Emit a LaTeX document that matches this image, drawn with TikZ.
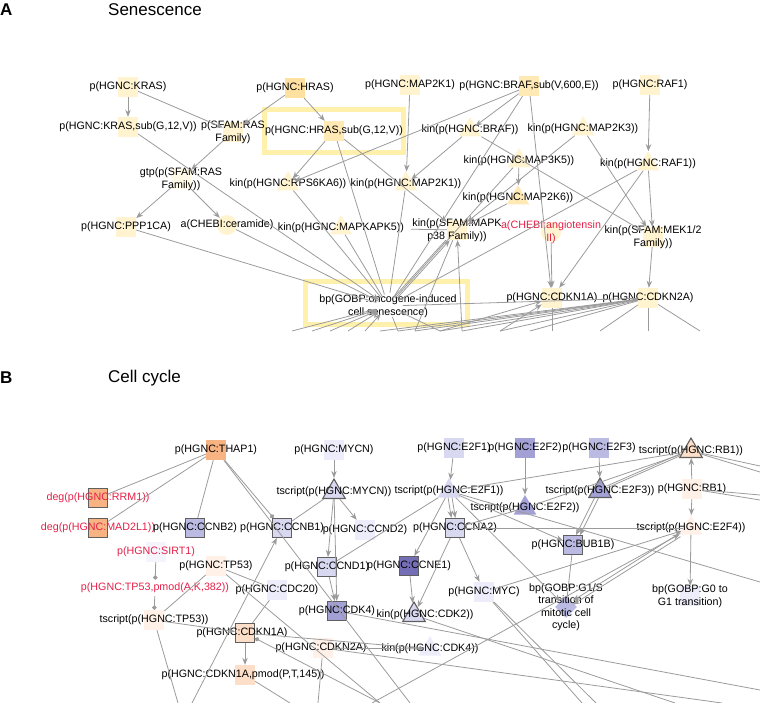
\documentclass[tikz,border=0pt]{standalone}
\usepackage{fontspec}
\setmainfont{Liberation Sans}
\usepackage{xcolor}
\usetikzlibrary{positioning,arrows.meta,shapes.geometric}
\definecolor{cedge}{RGB}{155,155,155}
\definecolor{cbord}{RGB}{95,95,95}
\definecolor{cred}{RGB}{228,32,72}
\definecolor{chl}{RGB}{255,241,172}
\definecolor{ya}{RGB}{255,243,208}
\definecolor{yb}{RGB}{255,233,180}
\definecolor{yc}{RGB}{254,225,160}
\definecolor{or}{RGB}{247,180,130}
\definecolor{pc}{RGB}{253,222,200}
\definecolor{pf}{RGB}{255,241,232}
\definecolor{lf}{RGB}{236,236,250}
\definecolor{la}{RGB}{216,216,241}
\definecolor{lb}{RGB}{186,186,226}
\definecolor{lc}{RGB}{162,160,212}
\definecolor{ld}{RGB}{116,110,182}

\begin{document}
\begin{tikzpicture}[x=1pt,y=-1pt,
  lbl/.style={font=\fontsize{10.7}{12.5}\selectfont,align=center,inner sep=0},
  ttl/.style={font=\fontsize{17}{20}\selectfont,anchor=west,inner sep=0},
  sq/.style={rectangle,minimum size=20,inner sep=0,fill=#1},
  sqo/.style={sq=#1,draw=cbord,line width=1.1pt,minimum size=19},
  tri/.style={regular polygon,regular polygon sides=3,minimum size=26,inner sep=0,fill=#1},
  trio/.style={tri=#1,draw=cbord,line width=1.1pt},
  dia/.style={diamond,minimum size=22,inner sep=0,fill=#1},
  ci/.style={circle,minimum size=20,inner sep=0,fill=#1},
  tx/.style={label={[lbl]center:#1}},
  txr/.style={label={[lbl,text=cred]center:#1}},
  a/.style={-{Stealth[length=7pt,width=5.5pt]},cedge,line width=0.8pt},
  l/.style={cedge,line width=0.8pt},
  dt/.style={-{Circle[length=4.5pt]},cedge,line width=0.8pt},
  hl/.style={draw=chl,line width=5pt,inner sep=0},
]
\useasboundingbox (0,0) rectangle (760,703);
% --- A: senescence ---
\node[ttl,font=\fontsize{17}{20}\selectfont\bfseries] (ta) at (0,10) {A};
\node[ttl] (tan) at (108,10) {Senescence};
\node[hl,minimum width=139,minimum height=43] (hla) at (334,131) {};
\node[hl,minimum width=162,minimum height=43] (hlb) at (386,303) {};

\node[sq=ya,tx={p(HGNC:KRAS)}] (kras) at (128,87) {};
\node[sq=ya,tx={p(HGNC:KRAS,sub(G,12,V))}] (krass) at (128,127) {};
\node[sq=ya,tx={p(SFAM:RAS\\Family)}] (sfam) at (233,132) {};
\node[sq=yc,tx={p(HGNC:HRAS)}] (hras) at (295,88) {};
\node[sq=yb,tx={p(HGNC:HRAS,sub(G,12,V))}] (hrass) at (334,131) {};
\node[sq=ya,tx={p(HGNC:MAP2K1)}] (map2k1) at (410,85) {};
\node[sq=yb,tx={p(HGNC:BRAF,sub(V,600,E))}] (brafs) at (529,86) {};
\node[sq=ya,tx={p(HGNC:RAF1)}] (raf1) at (650,85) {};
\node[tri=ya,tx={kin(p(HGNC:BRAF))}] (kbraf) at (470,130) {};
\node[tri=ya,tx={kin(p(HGNC:MAP2K3))}] (kmap2k3) at (583,129) {};
\node[tri=ya,tx={kin(p(HGNC:MAP3K5))}] (kmap3k5) at (519,161) {};
\node[tri=ya,tx={kin(p(HGNC:RAF1))}] (kraf1) at (648,164) {};
\node[sq=ya!50,tx={gtp(p(SFAM:RAS\\Family))}] (gtp) at (181,179) {};
\node[tri=ya,tx={kin(p(HGNC:RPS6KA6))}] (krps) at (288,184) {};
\node[tri=ya,tx={kin(p(HGNC:MAP2K1))}] (kmap2k1) at (406,184) {};
\node[tri=yb,tx={kin(p(HGNC:MAP2K6))}] (kmap2k6) at (518,198) {};
\node[sq=ya,tx={p(HGNC:PPP1CA)}] (ppp1ca) at (126,227) {};
\node[ci=ya,tx={a(CHEBI:ceramide)}] (ceram) at (227,225) {};
\node[tri=ya,tx={kin(p(HGNC:MAPKAPK5))}] (kmapkapk5) at (341,228) {};
\node[sq=ya,tx={kin(p(SFAM:MAPK\\p38 Family))}] (p38) at (457,230) {};
\node[ci=ya,txr={a(CHEBI:angiotensin\\II)}] (angio) at (551,232) {};
\node[sq=ya,tx={kin(p(SFAM:MEK1/2\\Family))}] (mek) at (653,237) {};
\node[diamond,minimum size=30,inner sep=0,tx={bp(GOBP:oncogene-induced\\cell senescence)}] (bp1) at (388,306) {};
\node[sq=ya,tx={p(HGNC:CDKN1A)}] (cdkn1a) at (552,298) {};
\node[sq=ya,tx={p(HGNC:CDKN2A)}] (cdkn2a) at (648,298) {};
\foreach \x [count=\i] in {292,312,330,348,365,380,398,415,440,462,500,530,552,600,648,700}
  \coordinate (ea\i) at (\x,331);

\draw[a] (kras)--(krass); \draw[a] (kras)--(sfam); \draw[a] (hras)--(sfam);
\draw[a] (hras)--(hrass); \draw[a] (sfam)--(gtp);
\draw[a] (gtp)--(ppp1ca); \draw[a] (gtp)--(ceram);
\draw[a] (krass)--(bp1); \draw[l] (ppp1ca)--(bp1); \draw[l] (ceram)--(bp1);
\draw[a] (hrass)--(krps); \draw[l] (hrass)--(bp1); \draw[a] (hrass)--(p38);
\draw[a] (map2k1)--(kmap2k1);
\draw[a] (brafs)--(kbraf); \draw[a] (brafs)--(krps); \draw[l] (brafs)--(bp1);
\draw[a] (brafs)--(cdkn1a);
\draw[a] (kbraf)--(kmap2k1); \draw[a] (kbraf)--(mek);
\draw[a] (kmap2k3)--(p38); \draw[a] (kmap2k3)--(mek);
\draw[a] (raf1)--(kraf1); \draw[a] (kraf1)--(mek); \draw[a] (kraf1)--(cdkn1a);
\draw[l] (kraf1)--(bp1);
\draw[a] (kmap3k5)--(kmap2k6); \draw[l] (kmap3k5)--(bp1); \draw[a] (kmap2k6)--(p38);
\draw[l,shorten <=62pt] (kmapkapk5)--(p38);
\draw[l] (krps)--(bp1); \draw[l] (kmap2k1)--(bp1); \draw[l] (kmapkapk5)--(bp1);
\draw[a,transform canvas={xshift=2pt}] (bp1)--(p38);
\draw[l,transform canvas={xshift=-2pt}] (p38)--(bp1);
\draw[a] (angio)--(cdkn1a); \draw[a] (mek)--(cdkn2a);
% the cut-off part of the network below
\foreach \i in {2,3,4,5} \draw[a] (ea\i)--(bp1);
\foreach \i in {1,7,9} \draw[l] (bp1)--(ea\i);
\draw[a] (ea10)--(p38); \draw[l] (p38)--(ea8);
\foreach \i in {6,...,12} \draw[l] (cdkn2a)--(ea\i);
\draw[l] (cdkn2a)--(bp1);
\draw[a] (ea9)--(cdkn1a); \draw[a] (ea11)--(cdkn1a); \draw[l] (cdkn1a)--(ea13);
\draw[l] (cdkn2a)--(ea14); \draw[l] (cdkn2a)--(ea15); \draw[l] (cdkn2a)--(ea16);

% --- B: cell cycle ---
\node[ttl,font=\fontsize{17}{20}\selectfont\bfseries] (tb) at (0,378) {B};
\node[ttl] (tbn) at (108,378) {Cell cycle};

\node[sq=or,tx={p(HGNC:THAP1)}] (thap1) at (216,450) {};
\node[sq=lf,tx={p(HGNC:MYCN)}] (mycn) at (334,450) {};
\node[sq=la,tx={p(HGNC:E2F1)}] (e2f1) at (454,448) {};
\node[sq=lc,tx={p(HGNC:E2F2)}] (e2f2) at (525,448) {};
\node[sq=lb,tx={p(HGNC:E2F3)}] (e2f3) at (599,448) {};
\node[trio=pc,tx={tscript(p(HGNC:RB1))}] (trb1) at (691,451) {};
\node[sqo=or,txr={deg(p(HGNC:RRM1))}] (rrm1) at (98,498) {};
\node[sqo=or,txr={deg(p(HGNC:MAD2L1))}] (mad2l1) at (98,528) {};
\node[trio=la,tx={tscript(p(HGNC:MYCN))}] (tmycn) at (334,492) {};
\node[tri=la,tx={tscript(p(HGNC:E2F1))}] (te2f1) at (449,491) {};
\node[trio=lc,tx={tscript(p(HGNC:E2F3))}] (te2f3) at (600,491) {};
\node[sq=pf,tx={p(HGNC:RB1)}] (rb1) at (692,489) {};
\node[tri=lc,tx={tscript(p(HGNC:E2F2))}] (te2f2) at (525,508) {};
\node[sqo=lb,tx={p(HGNC:CCNB2)}] (ccnb2) at (195,528) {};
\node[sqo=la,tx={p(HGNC:CCNB1)}] (ccnb1) at (282,528) {};
\node[sq=lf,tx={p(HGNC:CCND2)}] (ccnd2) at (365,530) {};
\node[sqo=la,tx={p(HGNC:CCNA2)}] (ccna2) at (455,528) {};
\node[sqo=lb,tx={p(HGNC:BUB1B)}] (bub1b) at (573,545) {};
\node[tri=pf,tx={tscript(p(HGNC:E2F4))}] (te2f4) at (691,528) {};
\node[sq=lf!60,txr={p(HGNC:SIRT1)}] (sirt1) at (156,552) {};
\node[sq=pf,tx={p(HGNC:TP53)}] (tp53) at (216,566) {};
\node[sqo=la,tx={p(HGNC:CCND1)}] (ccnd1) at (327,567) {};
\node[sqo=ld,tx={p(HGNC:CCNE1)}] (ccne1) at (409,566) {};
\node[rectangle,minimum size=16,inner sep=0,txr={p(HGNC:TP53,pmod(A,K,382))}] (tp53pm) at (155,588) {};
\node[sq=lf,tx={p(HGNC:CDC20)}] (cdc20) at (277,590) {};
\node[sq=lf,tx={p(HGNC:MYC)}] (myc) at (484,592) {};
\node[dia=lb,tx={bp(GOBP:G1/S\\transition of\\mitotic cell\\cycle)}] (g1s) at (566,607) {};
\node[sq=lf,tx={bp(GOBP:G0 to\\G1 transition)}] (g0g1) at (690,596) {};
\node[sqo=lc,tx={p(HGNC:CDK4)}] (cdk4) at (337,611) {};
\node[trio=la,label={[lbl,xshift=11]center:kin(p(HGNC:CDK2))}] (kcdk2) at (414,615) {};
\node[sq=pf,tx={tscript(p(HGNC:TP53))}] (ttp53) at (154,620) {};
\node[sqo=pc,label={[lbl,xshift=-3]center:p(HGNC:CDKN1A)}] (cdkn1a) at (245,633) {};
\node[sq=pf,label={[lbl,xshift=-2]center:p(HGNC:CDKN2A)}] (cdkn2a) at (323,648) {};
\node[tri=lf,tx={kin(p(HGNC:CDK4))}] (kcdk4) at (430,649) {};
\node[sq=pc,label={[lbl,xshift=-2]center:p(HGNC:CDKN1A,pmod(P,T,145))}] (cdkn1apm) at (245,675) {};
\foreach \x [count=\i] in {178,192,290,318,380,410,372,582,596,675,722}
  \coordinate (eb\i) at (\x,703);
\foreach \y [count=\i] in {466,472,495,500,582,690}
  \coordinate (er\i) at (760,\y);

\draw[l] (thap1)--(rrm1); \draw[l] (thap1)--(mad2l1); \draw[l] (thap1)--(ccnb2);
\draw[dt] (thap1)--(ccnb1); \draw[l] (thap1)--(eb6);
\draw[a] (mycn)--(tmycn);
\draw[l] (tmycn)--(ccnb1); \draw[a] (tmycn)--(ccnd2);
\draw[a] (tmycn)--(ccnd1); \draw[a] (tmycn)--(cdk4);
\draw[a] (e2f1)--(te2f1); \draw[a] (e2f2)--(te2f2); \draw[a] (e2f3)--(te2f3);
\draw[l] (trb1)--(te2f1); \draw[l] (trb1)--(te2f2);
\draw[l,transform canvas={yshift=2pt}] (trb1)--(te2f3); \draw[l] (trb1)--(te2f3);
\draw[l] (trb1)--(er1); \draw[l] (trb1)--(er2);
\draw[a] (rb1)--(trb1); \draw[a] (rb1)--(te2f4);
\draw[l] (rb1)--(er3); \draw[l] (rb1)--(er4);
\draw[l] (te2f1)--(ccnd1); \draw[a] (te2f1)--(ccne1);
\draw[a,transform canvas={xshift=-2pt}] (te2f1)--(ccna2); \draw[a,transform canvas={xshift=2pt}] (te2f1)--(ccna2);
\draw[a] (te2f1)--(bub1b); \draw[a] (te2f1)--(g1s); \draw[l] (te2f1)--(er5);
\draw[a,transform canvas={xshift=-2pt}] (te2f3)--(bub1b); \draw[a,transform canvas={xshift=2pt}] (te2f3)--(bub1b);
\draw[l] (te2f2)--(ccna2); \draw[l] (ccna2)--(te2f4);
\draw[a] (ccna2)--(kcdk2); \draw[a] (ccne1)--(kcdk2); \draw[a] (ccna2)--(myc);
\draw[a] (ccnd1)--(cdk4);
\draw[l] (bub1b)--(g1s);
\draw[a,transform canvas={yshift=-2pt}] (te2f4)--(g1s); \draw[a,transform canvas={yshift=2pt}] (te2f4)--(g1s);
\draw[a] (te2f4)--(g0g1); \draw[a] (myc)--(te2f4); \draw[a] (eb7)--(te2f4);
\draw[dt] (sirt1)--(tp53pm); \draw[dt] (tp53pm)--(ttp53);
\draw[l] (tp53)--(cdc20); \draw[l] (ttp53)--(tp53); \draw[l] (tp53)--(eb5);
\draw[a] (ttp53)--(cdkn1a); \draw[l] (ttp53)--(eb1);
\draw[a] (eb2)--(ccnb1); \draw[l] (cdc20)--(cdkn1a);
\draw[a] (cdkn1a)--(cdkn1apm); \draw[dt] (eb5)--(cdkn1a);
\draw[dt] (cdkn1a)--(kcdk4); \draw[l] (cdkn2a)--(kcdk4);
\draw[l] (cdkn1apm)--(eb3); \draw[l] (cdkn2a)--(eb4); \draw[l] (cdkn2a)--(eb11);
\draw[l] (cdk4)--(er6); \draw[l] (kcdk2)--(eb10);
\draw[l] (myc)--(eb8); \draw[l] (myc)--(eb9);
\end{tikzpicture}
\end{document}
